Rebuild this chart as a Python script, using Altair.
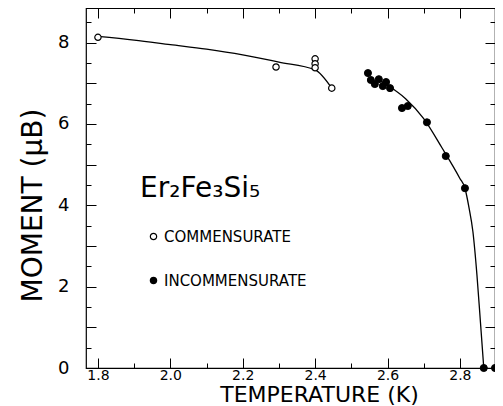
import altair as alt
import pandas as pd

# ---- data ----
comm_T = [1.80, 2.292, 2.40, 2.40, 2.40, 2.446]
comm_M = [8.13, 7.40, 7.60, 7.48, 7.38, 6.88]

inc_T = [2.546, 2.554, 2.565, 2.576, 2.587, 2.596, 2.607, 2.640, 2.656,
         2.709, 2.761, 2.814, 2.866, 2.897]
inc_M = [7.25, 7.08, 6.98, 7.10, 6.93, 7.03, 6.88, 6.39, 6.44,
         6.04, 5.21, 4.42, 0.0, 0.0]

fit1_T = [1.80, 1.90, 2.00, 2.10, 2.20, 2.30, 2.40, 2.446]
fit1_M = [8.15, 8.06, 7.95, 7.84, 7.70, 7.52, 7.33, 6.88]

fit2_T = [2.576, 2.60, 2.65, 2.70, 2.75, 2.80, 2.814, 2.825, 2.836, 2.847,
          2.857, 2.866]
fit2_M = [7.08, 6.95, 6.62, 6.13, 5.42, 4.66, 4.42, 3.95, 3.35, 2.30,
          1.10, 0.0]

phases = ["COMMENSURATE", "INCOMMENSURATE"]
x_major = [1.8, 2.0, 2.2, 2.4, 2.6, 2.8]
x_minor = [1.9, 2.1, 2.3, 2.5, 2.7]
y_major = [0, 1, 2, 3, 4, 5, 6, 7, 8]
y_minor = [0.5, 1.5, 2.5, 3.5, 4.5, 5.5, 6.5, 7.5, 8.5]

comm = pd.DataFrame({"T": comm_T, "M": comm_M, "phase": phases[0]})
inc = pd.DataFrame({"T": inc_T, "M": inc_M, "phase": phases[1]})
fit1 = pd.DataFrame({"T": fit1_T, "M": fit1_M})
fit2 = pd.DataFrame({"T": fit2_T, "M": fit2_M})

FONT = "DejaVu Sans"
xs = alt.Scale(domain=[1.767, 2.897], nice=False, zero=False)
ys = alt.Scale(domain=[0, 8.85], nice=False)


def xaxis(values, orient, size, labels=False, title=None):
    kw = dict(values=values, orient=orient, tickSize={"expr": str(-size)},
              domain=False, grid=False, labels=labels, tickColor="black",
              tickWidth=1)
    if labels:
        kw.update(format=".1f", labelFontSize=14, labelFont=FONT,
                  labelPadding=10, labelFlush=False,
                  labelOverlap=False, labelColor="black")
    if title:
        kw.update(title=title, titleFontSize=22, titleFont=FONT,
                  titleFontWeight="normal", titleColor="black",
                  titleX=233, titleY=33, titleBaseline="alphabetic",
                  titleAlign="center")
    else:
        kw.update(title=None)
    return alt.Axis(**kw)


def yaxis(values, orient, size, labels=False, title=None):
    kw = dict(values=values, orient=orient, tickSize={"expr": str(-size)},
              domain=False, grid=False, labels=labels, tickColor="black",
              tickWidth=1)
    if labels:
        kw.update(labelExpr="datum.value % 2 == 0 ? datum.label : ''",
                  labelFontSize=18, labelFont=FONT, labelPadding=27,
                  labelFlush=False, labelOverlap=False, labelColor="black")
    if title:
        kw.update(title=title, titleFontSize=28, titleFont=FONT,
                  titleFontWeight="normal", titleColor="black",
                  titleX=-53, titleY=197, titleAngle=270,
                  titleBaseline="middle", titleAlign="center")
    else:
        kw.update(title=None)
    return alt.Axis(**kw)


line1 = alt.Chart(fit1).mark_line(color="black", strokeWidth=1.3,
                                  interpolate="monotone").encode(
    x=alt.X("T:Q", scale=xs, axis=xaxis(x_major, "bottom", 10, True,
                                        "TEMPERATURE  (K)")),
    y=alt.Y("M:Q", scale=ys, axis=yaxis(y_major, "left", 10, True,
                                        "MOMENT  (μB)")),
)

line2 = alt.Chart(fit2).mark_line(color="black", strokeWidth=1.3,
                                  interpolate="monotone").encode(
    x=alt.X("T:Q", scale=xs, axis=xaxis(x_major, "top", 10)),
    y=alt.Y("M:Q", scale=ys, axis=yaxis(y_major, "right", 10)),
)

fill_scale = alt.Scale(domain=phases, range=["white", "black"])
legend = alt.Legend(
    title="Er₂Fe₃Si₅", orient="none", legendX=54, legendY=167,
    titleFont=FONT, titleFontSize=28, titleFontWeight="normal",
    titleColor="black", titlePadding=26, labelFont=FONT, labelFontSize=15,
    labelColor="black", symbolType="circle", symbolSize=40,
    symbolStrokeColor="black", symbolStrokeWidth=1.2, symbolOffset=6,
    labelOffset=3, rowPadding=28, padding=0,
)

pts_open = alt.Chart(comm).mark_point(shape="circle", filled=False,
                                      stroke="black", strokeWidth=1.2,
                                      size=40, opacity=1).encode(
    x=alt.X("T:Q", scale=xs, axis=xaxis(x_minor, "bottom", 5)),
    y=alt.Y("M:Q", scale=ys, axis=yaxis(y_minor, "left", 5)),
    fill=alt.Fill("phase:N", scale=fill_scale, legend=legend),
)

pts_fill = alt.Chart(inc).mark_point(shape="circle", filled=True,
                                     stroke="black", strokeWidth=1,
                                     size=50, opacity=1).encode(
    x=alt.X("T:Q", scale=xs, axis=xaxis(x_minor, "top", 5)),
    y=alt.Y("M:Q", scale=ys, axis=yaxis(y_minor, "right", 5)),
    fill=alt.Fill("phase:N", scale=fill_scale, legend=legend),
)

chart = alt.layer(line1, line2, pts_open, pts_fill).resolve_axis(
    x="independent", y="independent"
).resolve_scale(x="shared", y="shared", fill="shared").properties(
    width=409, height=360,
    autosize=alt.AutoSizeParams(type="none"),
    padding={"left": 78, "top": 0, "right": 0, "bottom": 38},
    background="white",
).configure_view(stroke="black", strokeWidth=1.2)

chart.save("out.html", embed_options={"renderer": "svg", "actions": False})
